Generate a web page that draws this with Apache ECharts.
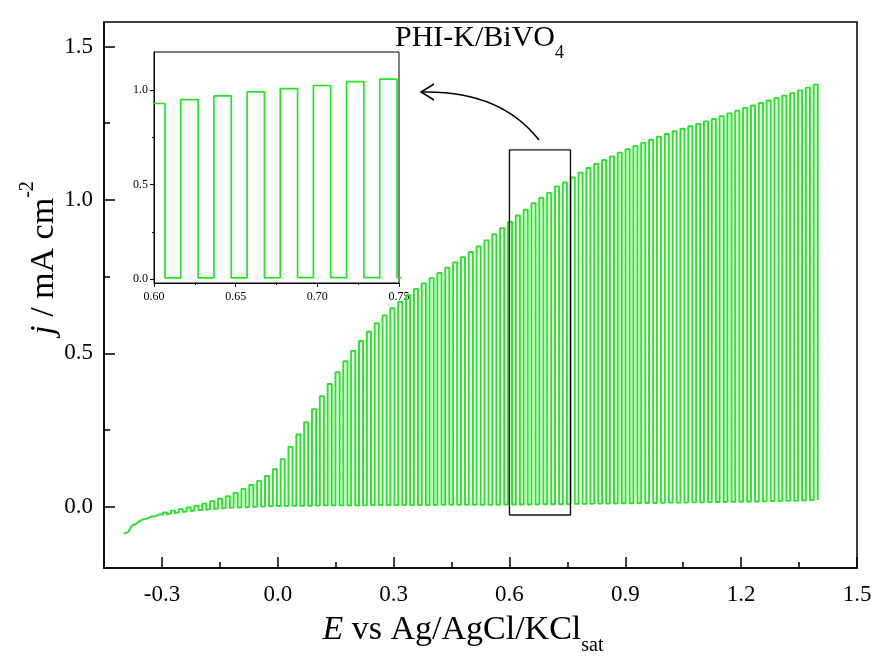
<!DOCTYPE html>
<html><head><meta charset="utf-8">
<script src="https://cdn.jsdelivr.net/npm/echarts@6/dist/echarts.min.js"></script>
<style>html,body{margin:0;padding:0;background:#fff}#c{width:875px;height:657px}</style>
</head><body><div id="c"></div>
<script>
// Chopped-light LSV of PHI-K/BiVO4 (E in V vs Ag/AgCl/KCl_sat, j in mA cm^-2)
const lightOnE = [-0.3986,-0.3783,-0.3580,-0.3377,-0.3174,-0.2971,-0.2768,-0.2565,-0.2362,-0.2159,
  -0.1956,-0.1753,-0.1550,-0.1347,-0.1144,-0.0941,-0.0738,-0.0535,-0.0332,-0.0129,
  0.0074,0.0277,0.0480,0.0683,0.0886,0.1089,0.1292,0.1495,0.1698,0.1901,
  0.2104,0.2307,0.2510,0.2713,0.2916,0.3119,0.3322,0.3525,0.3728,0.3931,
  0.4134,0.4337,0.4540,0.4743,0.4946,0.5149,0.5352,0.5555,0.5758,0.5961,
  0.6164,0.6367,0.6570,0.6773,0.6976,0.7179,0.7382,0.7585,0.7788,0.7991,
  0.8194,0.8397,0.8600,0.8803,0.9006,0.9209,0.9412,0.9615,0.9818,1.0021,
  1.0224,1.0427,1.0630,1.0833,1.1036,1.1239,1.1442,1.1645,1.1848,1.2051,
  1.2254,1.2457,1.2660,1.2863,1.3066,1.3269,1.3472,1.3675,1.3878];
const lightOffE = [-0.3880,-0.3677,-0.3474,-0.3271,-0.3068,-0.2865,-0.2662,-0.2459,-0.2256,-0.2053,
  -0.1850,-0.1647,-0.1444,-0.1241,-0.1038,-0.0835,-0.0632,-0.0429,-0.0226,-0.0023,
  0.0180,0.0383,0.0586,0.0789,0.0992,0.1195,0.1398,0.1601,0.1804,0.2007,
  0.2210,0.2413,0.2616,0.2819,0.3022,0.3225,0.3428,0.3631,0.3834,0.4037,
  0.4240,0.4443,0.4646,0.4849,0.5052,0.5255,0.5458,0.5661,0.5864,0.6067,
  0.6270,0.6473,0.6676,0.6879,0.7082,0.7285,0.7488,0.7691,0.7894,0.8097,
  0.8300,0.8503,0.8706,0.8909,0.9112,0.9315,0.9518,0.9721,0.9924,1.0127,
  1.0330,1.0533,1.0736,1.0939,1.1142,1.1345,1.1548,1.1751,1.1954,1.2157,
  1.2360,1.2563,1.2766,1.2969,1.3172,1.3375,1.3578,1.3781,1.3984];
const photoJ = [-0.083,-0.056,-0.041,-0.032,-0.025,-0.019,-0.013,-0.008,-0.003,0.003,
  0.010,0.018,0.026,0.034,0.045,0.058,0.071,0.084,0.100,0.122,
  0.155,0.195,0.235,0.275,0.318,0.360,0.400,0.438,0.474,0.508,
  0.540,0.570,0.598,0.623,0.647,0.668,0.690,0.710,0.728,0.745,
  0.762,0.779,0.796,0.813,0.830,0.848,0.868,0.888,0.908,0.928,
  0.949,0.968,0.989,1.007,1.023,1.044,1.057,1.073,1.089,1.104,
  1.117,1.130,1.142,1.154,1.165,1.176,1.186,1.196,1.206,1.215,
  1.224,1.232,1.240,1.248,1.256,1.264,1.273,1.282,1.291,1.300,
  1.308,1.316,1.324,1.332,1.340,1.348,1.357,1.366,1.376];
const darkJ = [-0.088,-0.062,-0.047,-0.038,-0.031,-0.026,-0.022,-0.018,-0.015,-0.012,
  -0.010,-0.008,-0.006,-0.004,-0.003,-0.002,-0.001,0.000,0.001,0.002,
  0.002,0.003,0.003,0.003,0.003,0.004,0.004,0.004,0.004,0.004,
  0.004,0.005,0.005,0.005,0.005,0.005,0.005,0.005,0.005,0.005,
  0.006,0.006,0.006,0.006,0.006,0.006,0.006,0.006,0.007,0.007,
  0.007,0.007,0.007,0.008,0.008,0.008,0.008,0.009,0.009,0.009,
  0.010,0.010,0.010,0.011,0.011,0.011,0.012,0.012,0.012,0.013,
  0.013,0.013,0.014,0.014,0.014,0.015,0.015,0.016,0.016,0.016,
  0.017,0.017,0.018,0.018,0.019,0.019,0.020,0.021,0.022];

const mainXTicks = [-0.3, 0.0, 0.3, 0.6, 0.9, 1.2, 1.5];
const mainXMinor = [-0.15, 0.15, 0.45, 0.75, 1.05, 1.35];
const mainYTicks = [0.0, 0.5, 1.0, 1.5];
const mainYMinor = [0.25, 0.75, 1.25];
const insetXTicks = [0.60, 0.65, 0.70, 0.75];
const insetXMinor = [0.625, 0.675, 0.725];
const insetYTicks = [0.0, 0.5, 1.0];
const insetYMinor = [0.25, 0.75];
const zoomBox = {e0: 0.60, e1: 0.758, j0: -0.027, j1: 1.163};

const trace = [];
for (let k = 0; k < lightOnE.length; k++) {
  trace.push([lightOnE[k], darkJ[k]]);
  trace.push([lightOnE[k], photoJ[k]]);
  trace.push([lightOffE[k], photoJ[k]]);
  trace.push([lightOffE[k], darkJ[k]]);
}
const boxLine = [[zoomBox.e0, zoomBox.j0],[zoomBox.e1, zoomBox.j0],[zoomBox.e1, zoomBox.j1],[zoomBox.e0, zoomBox.j1],[zoomBox.e0, zoomBox.j0]];

const FONT = 'Liberation Serif';
const GREEN = '#22e622';

function axis(o) {
  return {
    type: 'value', gridIndex: o.grid, min: o.min, max: o.max, position: o.pos,
    splitLine: {show: false},
    axisLine: {show: o.line, onZero: false, lineStyle: {color: '#000', width: o.lw}},
    axisTick: {show: true, inside: o.inside, length: o.tl, customValues: o.ticks,
               lineStyle: {color: '#000', width: o.lw}},
    axisLabel: o.labels ? {show: true, customValues: o.ticks, margin: o.margin,
               fontFamily: FONT, fontSize: o.fs, color: '#000',
               formatter: v => v.toFixed(o.dec)} : {show: false}
  };
}

const chart = echarts.init(document.getElementById('c'), null, {renderer: 'canvas'});
chart.setOption({
  animation: false,
  backgroundColor: '#fff',
  grid: [
    {left: 104, right: 18, top: 22, bottom: 89, show: true, borderColor: '#000', borderWidth: 1.5, containLabel: false},
    {left: 154, top: 52, width: 245, height: 231, show: true, borderColor: '#000', borderWidth: 1, backgroundColor: '#fff', containLabel: false}
  ],
  xAxis: [
    axis({grid: 0, min: -0.45, max: 1.5, pos: 'bottom', line: true, lw: 1.5, inside: true, tl: 11, ticks: mainXTicks, labels: true, margin: 15, fs: 23, dec: 1}),
    axis({grid: 0, min: -0.45, max: 1.5, pos: 'bottom', line: false, lw: 1.5, inside: true, tl: 6, ticks: mainXMinor, labels: false}),
    axis({grid: 1, min: 0.60, max: 0.75, pos: 'bottom', line: true, lw: 1, inside: false, tl: 4, ticks: insetXTicks, labels: true, margin: 8, fs: 12, dec: 2}),
    axis({grid: 1, min: 0.60, max: 0.75, pos: 'bottom', line: false, lw: 1, inside: false, tl: 2, ticks: insetXMinor, labels: false})
  ],
  yAxis: [
    axis({grid: 0, min: -0.2, max: 1.58, pos: 'left', line: true, lw: 1.5, inside: true, tl: 11, ticks: mainYTicks, labels: true, margin: 11, fs: 23, dec: 1}),
    axis({grid: 0, min: -0.2, max: 1.58, pos: 'left', line: false, lw: 1.5, inside: true, tl: 6, ticks: mainYMinor, labels: false}),
    axis({grid: 1, min: -0.02, max: 1.2, pos: 'left', line: true, lw: 1, inside: false, tl: 4, ticks: insetYTicks, labels: true, margin: 6, fs: 12, dec: 1}),
    axis({grid: 1, min: -0.02, max: 1.2, pos: 'left', line: false, lw: 1, inside: false, tl: 2, ticks: insetYMinor, labels: false})
  ],
  series: [
    {type: 'line', xAxisIndex: 0, yAxisIndex: 0, data: trace, showSymbol: false, symbol: 'none',
     lineStyle: {color: GREEN, width: 1.9}, z: 2},
    {type: 'line', xAxisIndex: 2, yAxisIndex: 2, data: trace, showSymbol: false, symbol: 'none', clip: true,
     lineStyle: {color: GREEN, width: 1.7}, z: 5},
    {type: 'line', xAxisIndex: 0, yAxisIndex: 0, data: boxLine, showSymbol: false, symbol: 'none',
     lineStyle: {color: '#111', width: 1.4}, z: 3}
  ],
  graphic: [
    {type: 'text', x: 463, y: 630, z: 10, style: {
      text: '{i|E} vs Ag/AgCl/KCl{sub|sat}', align: 'center', verticalAlign: 'middle',
      fontFamily: FONT, fontSize: 34, fill: '#000',
      rich: {i: {fontStyle: 'italic', fontFamily: FONT, fontSize: 34, lineHeight: 34},
             sub: {fontFamily: FONT, fontSize: 20, verticalAlign: 'bottom', lineHeight: 52}}}},
    {type: 'text', x: 44, y: 258, rotation: Math.PI / 2, z: 10, style: {
      text: '{i|j} / mA cm{sup|-2}', align: 'center', verticalAlign: 'middle',
      fontFamily: FONT, fontSize: 34, fill: '#000',
      rich: {i: {fontStyle: 'italic', fontFamily: FONT, fontSize: 34, lineHeight: 34},
             sup: {fontFamily: FONT, fontSize: 20, verticalAlign: 'top', lineHeight: 52}}}},
    {type: 'text', x: 395, y: 38, z: 10, style: {
      text: 'PHI-K/BiVO{sub|4}', align: 'left', verticalAlign: 'middle',
      fontFamily: FONT, fontSize: 30, fill: '#000',
      rich: {sub: {fontFamily: FONT, fontSize: 18, verticalAlign: 'bottom', lineHeight: 48}}}},
    {type: 'bezierCurve', z: 10, shape: {x1: 539, y1: 140, x2: 421, y2: 92, cpx1: 500, cpy1: 90},
     style: {stroke: '#000', lineWidth: 1.5, fill: null}},
    {type: 'polyline', z: 10, shape: {points: [[434, 84], [421, 92], [434, 100]]},
     style: {stroke: '#000', lineWidth: 1.5, fill: null}}
  ]
});
</script></body></html>
